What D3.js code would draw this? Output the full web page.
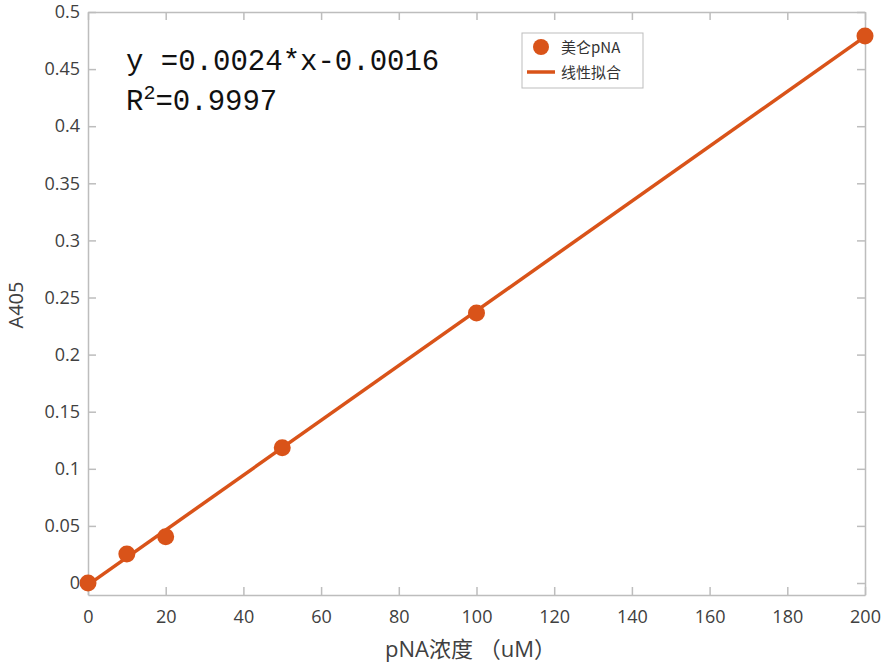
<!DOCTYPE html>
<html>
<head>
<meta charset="utf-8">
<script src="https://cdn.jsdelivr.net/npm/d3@7"></script>
<style>
  body { margin: 0; background: #fff; }
  .axis text { font-family: "Open Sans", "Noto Sans CJK SC", sans-serif; font-size: 18px; fill: #404040; }
  .axis path, .axis line { stroke: #bdbdbd; stroke-width: 1.5; }
</style>
</head>
<body>
<div id="chart"></div>
<script>
// measured points
var concX = [0, 10, 20, 50, 100, 200];
var a405 = [0, 0.0255, 0.0405, 0.1185, 0.2365, 0.479];
// linear fit y = 0.0024*x - 0.0016, endpoints
var fitX = [0, 200];
var fitY = [-0.0016, 0.4784];
var xTicks = [0, 20, 40, 60, 80, 100, 120, 140, 160, 180, 200];
var yTicks = [0, 0.05, 0.1, 0.15, 0.2, 0.25, 0.3, 0.35, 0.4, 0.45, 0.5];
var legendNames = ["美仑pNA", "线性拟合"];

var W = 882, H = 663;
var margin = { top: 12, right: 17, bottom: 68, left: 88 },
	width = W - margin.left - margin.right,
	height = H - margin.top - margin.bottom;
var color = "#D95319";

var svg = d3.select("#chart").append("svg")
	.attr("width", W)
	.attr("height", H);
var g = svg.append("g")
	.attr("transform", "translate(" + margin.left + "," + margin.top + ")");

var x = d3.scaleLinear().domain([0, 200]).range([0, width]);
var y = d3.scaleLinear().domain([-0.0105, 0.5]).range([height, 0]);

var fmt = function(d) { return d3.format("")(+d.toFixed(2)); };

// bottom / left axes with inward ticks
g.append("g")
	.attr("class", "axis")
	.attr("transform", "translate(0," + height + ")")
	.call(d3.axisBottom(x).tickValues(xTicks).tickSizeInner(-8).tickSizeOuter(0).tickPadding(15));

g.append("g")
	.attr("class", "axis")
	.call(d3.axisLeft(y).tickValues(yTicks).tickFormat(fmt).tickSizeInner(-8).tickSizeOuter(0).tickPadding(8));

// top / right axes, no labels
g.append("g")
	.attr("class", "axis")
	.call(d3.axisTop(x).tickValues(xTicks).tickSizeInner(-8).tickSizeOuter(0).tickFormat(""));
g.append("g")
	.attr("class", "axis")
	.attr("transform", "translate(" + width + ",0)")
	.call(d3.axisRight(y).tickValues(yTicks).tickSizeInner(-8).tickSizeOuter(0).tickFormat(""));

// fit line
g.append("line")
	.attr("x1", x(fitX[0])).attr("y1", y(fitY[0]))
	.attr("x2", x(fitX[1])).attr("y2", y(fitY[1]))
	.style("stroke", color)
	.style("stroke-width", 3.5);

// points
g.selectAll(".pt")
	.data(concX)
	.enter().append("circle")
	.attr("class", "pt")
	.attr("cx", function(d) { return x(d); })
	.attr("cy", function(d, i) { return y(a405[i]); })
	.attr("r", 8.5)
	.style("fill", color);

// axis titles
svg.append("text")
	.attr("x", 385)
	.attr("y", 657)
	.style("font-family", "'Open Sans', 'Noto Sans CJK SC', sans-serif")
	.style("font-size", "22px")
	.style("fill", "#404040")
	.text("pNA浓度 （uM）");

svg.append("text")
	.attr("transform", "translate(23,305) rotate(-90)")
	.attr("text-anchor", "middle")
	.style("font-family", "'Open Sans', 'Noto Sans CJK SC', sans-serif")
	.style("font-size", "20px")
	.style("fill", "#404040")
	.text("A405");

// equation
var eq = svg.append("g")
	.style("font-family", "'Liberation Mono', monospace")
	.style("font-size", "29px")
	.style("fill", "#111");
eq.append("text").attr("x", 126).attr("y", 70).text("y =0.0024*x-0.0016");
var r2 = eq.append("text").attr("x", 126).attr("y", 110);
r2.append("tspan").text("R");
r2.append("tspan").attr("dy", -11).style("font-size", "20px").text("2");
r2.append("tspan").attr("dy", 11).text("=0.9997");

// legend
var lg = svg.append("g").attr("transform", "translate(522,33)");
lg.append("rect")
	.attr("width", 121).attr("height", 55)
	.style("fill", "#fff")
	.style("stroke", "#bdbdbd")
	.style("stroke-width", 1);
lg.append("circle").attr("cx", 19).attr("cy", 14).attr("r", 8).style("fill", color);
lg.append("line").attr("x1", 5).attr("x2", 33).attr("y1", 39).attr("y2", 39)
	.style("stroke", color).style("stroke-width", 3.5);
lg.selectAll(".lt")
	.data(legendNames)
	.enter().append("text")
	.attr("x", 39)
	.attr("y", function(d, i) { return 20 + i * 25; })
	.style("font-family", "'Noto Sans CJK SC', sans-serif")
	.style("font-size", "15px")
	.style("fill", "#333")
	.text(function(d) { return d; });
</script>
</body>
</html>
